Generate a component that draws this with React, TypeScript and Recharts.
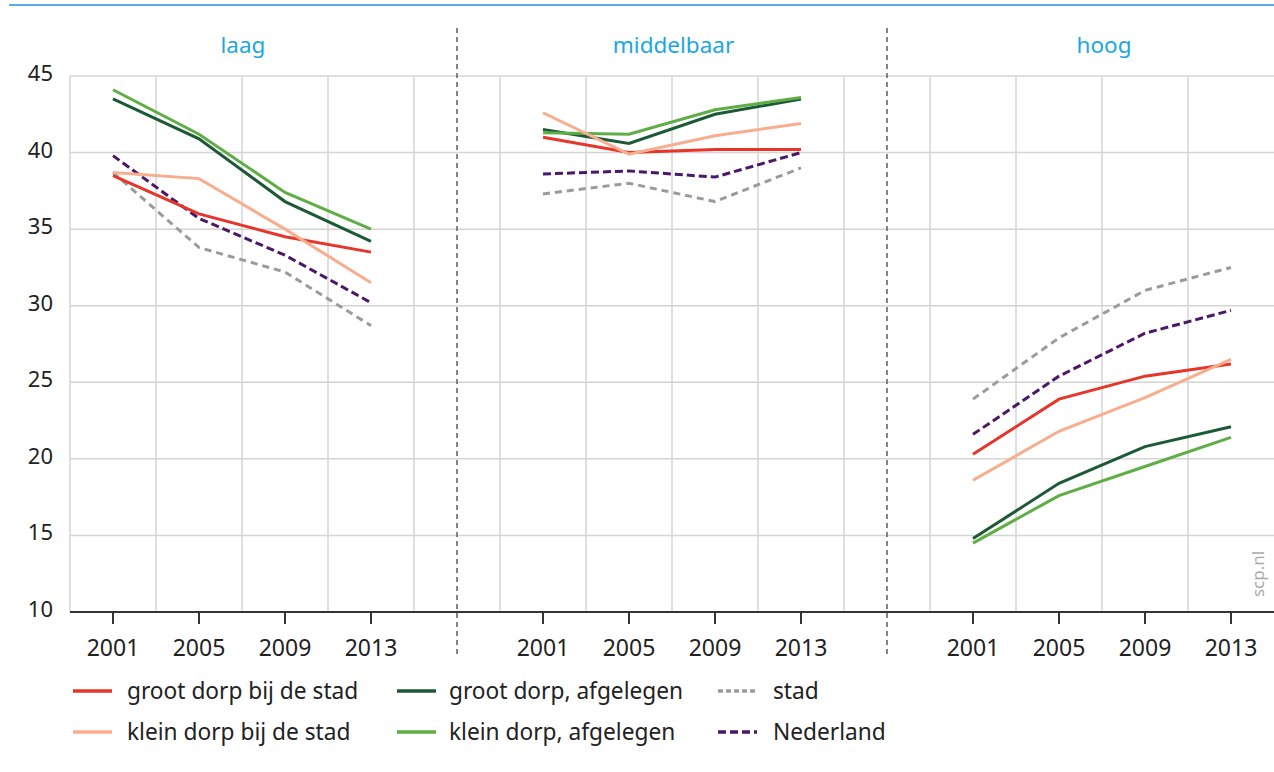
import { LineChart, Line, XAxis, YAxis, CartesianGrid, ReferenceLine } from "recharts";

const years = ["2001", "2005", "2009", "2013"];
const panels = ["laag", "middelbaar", "hoog"];
const yTicks = [10, 15, 20, 25, 30, 35, 40, 45];

// values per panel (laag, middelbaar, hoog), 4 years each
const grootBijStad = [38.5, 36.0, 34.5, 33.5, 41.0, 40.0, 40.2, 40.2, 20.3, 23.9, 25.4, 26.2];
const kleinBijStad = [38.7, 38.3, 35.0, 31.5, 42.6, 39.9, 41.1, 41.9, 18.6, 21.8, 24.0, 26.5];
const grootAfgelegen = [43.5, 40.9, 36.8, 34.2, 41.5, 40.6, 42.5, 43.5, 14.8, 18.4, 20.8, 22.1];
const kleinAfgelegen = [44.1, 41.2, 37.4, 35.0, 41.3, 41.2, 42.8, 43.6, 14.5, 17.6, 19.5, 21.4];
const stad = [38.7, 33.8, 32.2, 28.7, 37.3, 38.0, 36.8, 39.0, 23.9, 27.9, 31.0, 32.5];
const nederland = [39.8, 35.7, 33.3, 30.2, 38.6, 38.8, 38.4, 40.0, 21.6, 25.4, 28.2, 29.7];

const series = [
    { key: "stad", name: "stad", values: stad, color: "#9b9b9b", dash: "7 5" },
    { key: "nederland", name: "Nederland", values: nederland, color: "#4a1867", dash: "8 4" },
    { key: "grootBijStad", name: "groot dorp bij de stad", values: grootBijStad, color: "#e8352a", dash: undefined },
    { key: "grootAfgelegen", name: "groot dorp, afgelegen", values: grootAfgelegen, color: "#1b5a35", dash: undefined },
    { key: "kleinAfgelegen", name: "klein dorp, afgelegen", values: kleinAfgelegen, color: "#5fae45", dash: undefined },
    { key: "kleinBijStad", name: "klein dorp bij de stad", values: kleinBijStad, color: "#f8ad8e", dash: undefined },
];

const legendRows = [
    ["grootBijStad", "grootAfgelegen", "stad"],
    ["kleinBijStad", "kleinAfgelegen", "nederland"],
];

const rows: any[] = [];
panels.forEach((p, pi) => {
    years.forEach((y, yi) => {
        const row: any = { key: `${p}-${y}` };
        series.forEach((s) => {
            row[s.key] = s.values[pi * 4 + yi];
        });
        rows.push(row);
    });
    if (pi < panels.length - 1) rows.push({ key: `sep-${pi}` });
});

const yearTicks = rows.filter((r) => !r.key.startsWith("sep")).map((r) => r.key);

const FONT = "'Noto Sans', 'Open Sans', sans-serif";

const YTick = ({ x, y, payload }: any) => (
    <text x={x} y={y} dy={5} textAnchor="end" fontSize={22} fill="#222" fontFamily={FONT}>
        {payload.value}
    </text>
);

// dashed panel divider, runs past the plot area at top and bottom
const Separator = ({ x1, y1, x2, y2 }: any) => (
    <line
        x1={x1}
        x2={x2}
        y1={Math.min(y1, y2) - 48}
        y2={Math.max(y1, y2) + 44}
        stroke="#666"
        strokeWidth={1.6}
        strokeDasharray="5 4"
    />
);

const App = () => {
    return (
        <div style={{ position: "absolute", left: 0, top: 0, width: 1274, height: 772, background: "#fff" }}>
            <LineChart width={1274} height={700} data={rows} margin={{ top: 76, right: 0, left: 0, bottom: 38 }}>
                <CartesianGrid
                    stroke="#d4d4d4"
                    strokeWidth={1.5}
                    verticalCoordinatesGenerator={({ offset }: any) =>
                        Array.from({ length: 14 }, (_, i) => offset.left + (i * offset.width) / 14)
                    }
                />
                <XAxis
                    dataKey="key"
                    ticks={yearTicks}
                    tickFormatter={(k: string) => k.split("-")[1]}
                    padding={{ left: 43, right: 43 }}
                    height={50}
                    axisLine={{ stroke: "#333", strokeWidth: 2 }}
                    tickLine={{ stroke: "#333", strokeWidth: 2 }}
                    tickSize={12}
                    tickMargin={16}
                    tick={{ fontSize: 23, fill: "#222", fontFamily: FONT }}
                    interval={0}
                />
                <YAxis
                    type="number"
                    domain={[10, 45]}
                    ticks={yTicks}
                    width={70}
                    axisLine={false}
                    tickLine={false}
                    tickSize={0}
                    tickMargin={17}
                    tick={<YTick />}
                />
                <ReferenceLine x="sep-0" shape={<Separator />} />
                <ReferenceLine x="sep-1" shape={<Separator />} />
                {series.map((s) => (
                    <Line
                        key={s.key}
                        dataKey={s.key}
                        name={s.name}
                        stroke={s.color}
                        strokeWidth={3}
                        strokeDasharray={s.dash}
                        dot={false}
                        activeDot={false}
                        isAnimationActive={false}
                    />
                ))}
            </LineChart>

            <svg
                width={1274}
                height={772}
                style={{ position: "absolute", left: 0, top: 0, pointerEvents: "none" }}
            >
                <line x1={9} x2={1274} y1={5} y2={5} stroke="#5aade3" strokeWidth={2} />
                {panels.map((p, i) => (
                    <text
                        key={p}
                        x={243 + i * 430.5}
                        y={53}
                        textAnchor="middle"
                        fontSize={22.5}
                        fill="#1aa7e3"
                        fontFamily={FONT}
                    >
                        {p}
                    </text>
                ))}
                <text
                    x={1264}
                    y={574}
                    transform="rotate(-90 1264 574)"
                    textAnchor="middle"
                    fontSize={17}
                    fill="#aaa"
                    fontFamily={FONT}
                >
                    scp.nl
                </text>
                {legendRows.map((row, ri) =>
                    row.map((k, ci) => {
                        const s = series.find((d) => d.key === k)!;
                        const lx = [73, 397, 718][ci];
                        const tx = [127, 449, 773][ci];
                        const ly = 691 + ri * 41;
                        return (
                            <g key={k}>
                                <line
                                    x1={lx}
                                    x2={lx + 39}
                                    y1={ly}
                                    y2={ly}
                                    stroke={s.color}
                                    strokeWidth={3.5}
                                    strokeDasharray={k === "stad" ? "5 3" : s.dash ? "8 4" : undefined}
                                />
                                <text x={tx} y={ly + 8} fontSize={22.7} fill="#222" fontFamily={FONT}>
                                    {s.name}
                                </text>
                            </g>
                        );
                    })
                )}
            </svg>
        </div>
    );
};

export default App;
